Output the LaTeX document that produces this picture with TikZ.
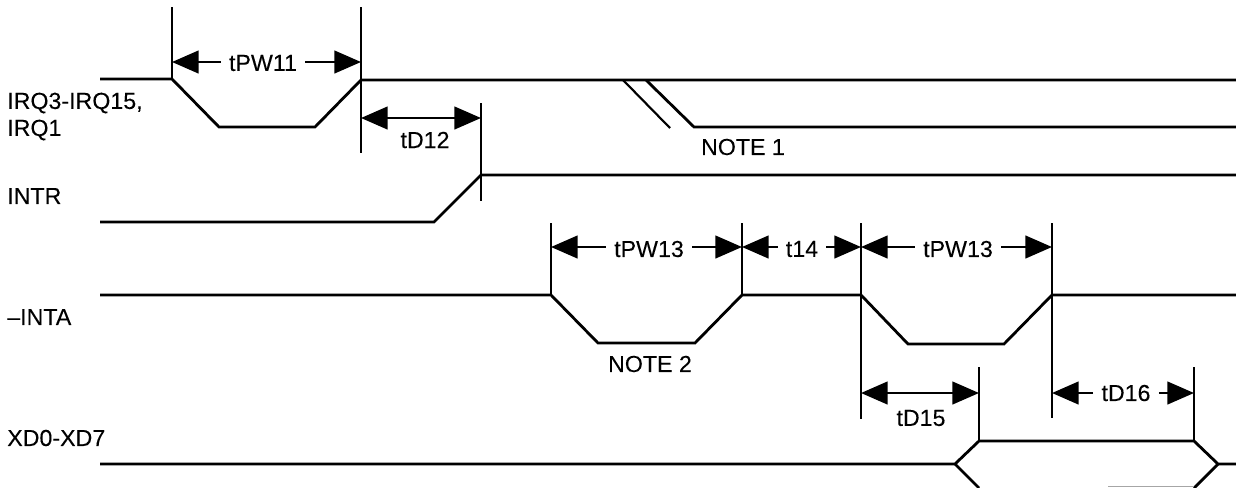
\documentclass[tikz,border=0pt]{standalone}
\usepackage{fontspec}
\setmainfont{Liberation Sans}[FakeBold=0.12]
\usetikzlibrary{arrows.meta}
\tikzset{
  x=0.75pt,y=-0.75pt,
  sig/.style={line width=2.1pt,line join=miter},
  tick/.style={line width=1.6pt},
  dim/.style={line width=1.8pt,-{Triangle[length=20pt,width=17pt]}},
  lab/.style={inner sep=0pt,font=\fontsize{17.4}{19}\selectfont},
}
\begin{document}
\begin{tikzpicture}
\useasboundingbox (0,0) rectangle (1236,487);
\clip (0,0) rectangle (1236,487);
% signals
\draw[sig] (100,79) -- (172,79) -- (219,127) -- (315,127) -- (361,80) -- (1236,80);
\draw[tick] (623,80) -- (670,128);
\draw[sig] (646,80) -- (694,127) -- (1236,127);
\draw[sig] (100,222) -- (434,222) -- (481,175) -- (1236,175);
\draw[sig] (100,295) -- (551,295) -- (598,343) -- (695,343) -- (742,295) -- (861,295) -- (908,344) -- (1004,344) -- (1052,295) -- (1236,295);
\draw[sig] (100,464) -- (955,464) -- (979,441) -- (1194,441) -- (1218,464) -- (1236,464);
\draw[sig] (955,464) -- (979,488);
\draw[sig] (1218,464) -- (1194,488);
\draw[line width=0.8pt,black!35] (1108,486.5) -- (1194,486.5);
% ticks
\coordinate (a1) at (172,62); \coordinate (a2) at (361,62);
\coordinate (b2) at (361,118); \coordinate (b3) at (481,118);
\coordinate (c1) at (551,247); \coordinate (c2) at (742,247);
\coordinate (c3) at (861,247); \coordinate (c4) at (1052,247);
\coordinate (d1) at (861,393); \coordinate (d2) at (979,393);
\coordinate (e1) at (1052,393); \coordinate (e2) at (1194,393);
\draw[tick] (172,7) -- (172,79);
\draw[tick] (361,7) -- (361,153);
\draw[tick] (481,103) -- (481,201);
\draw[tick] (551,223) -- (551,295);
\draw[tick] (742,223) -- (742,295);
\draw[tick] (861,223) -- (861,419);
\draw[tick] (1052,223) -- (1052,418);
\draw[tick] (979,367) -- (979,441);
\draw[tick] (1194,367) -- (1194,441);
% labels
\node[lab] (tpwa) at (263,63) {tPW11};
\node[lab] (td12) at (425,140) {tD12};
\node[lab] (note1) at (743,147) {NOTE 1};
\node[lab] (tpwb) at (649,249) {tPW13};
\node[lab] (t14) at (802,249) {t14};
\node[lab] (tpwc) at (958,249) {tPW13};
\node[lab] (note2) at (650,364) {NOTE 2};
\node[lab] (td15) at (921,418) {tD15};
\node[lab] (td16) at (1126,393) {tD16};
\node[lab,anchor=west] (irq1) at (7,103) {IRQ3-IRQ15,};
\node[lab,anchor=west] (irq2) at (7,130) {IRQ1};
\node[lab,anchor=west] (intr) at (7,196) {INTR};
\node[lab,anchor=west] (inta) at (7,317) {–INTA};
\node[lab,anchor=west] (xd) at (7,438) {XD0-XD7};
% dimension arrows
\draw[dim] (tpwa.west) ++(-8,-1) -- (a1);
\draw[dim] (tpwa.east) ++(8,-1) -- (a2);
\draw[dim] (425,118) -- (b2);
\draw[dim] (425,118) -- (b3);
\draw[dim] (tpwb.west) ++(-8,-2) -- (c1);
\draw[dim] (tpwb.east) ++(8,-2) -- (c2);
\draw[dim] (t14.west) ++(-8,-2) -- (c2);
\draw[dim] (t14.east) ++(8,-2) -- (c3);
\draw[dim] (tpwc.west) ++(-8,-2) -- (c3);
\draw[dim] (tpwc.east) ++(8,-2) -- (c4);
\draw[dim] (921,393) -- (d1);
\draw[dim] (921,393) -- (d2);
\draw[dim] (td16.west) ++(-8,0) -- (e1);
\draw[dim] (td16.east) ++(8,0) -- (e2);
\end{tikzpicture}
\end{document}
